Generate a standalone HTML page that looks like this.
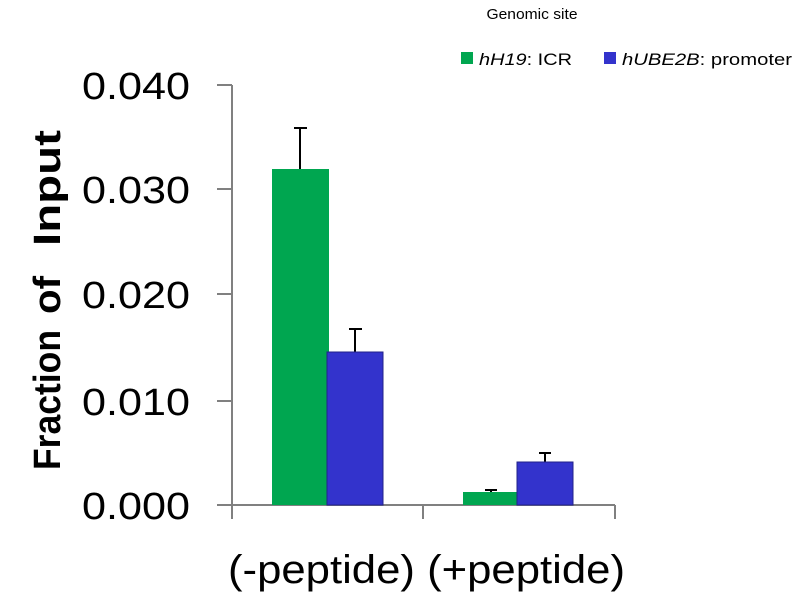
<!DOCTYPE html>
<html><head><style>body{margin:0;background:#fff}</style></head><body>
<svg width="800" height="600" xmlns="http://www.w3.org/2000/svg" font-family="Liberation Sans, sans-serif">
<rect width="800" height="600" fill="#fff"/>
<text x="532" y="19" font-size="15" text-anchor="middle" fill="#000" textLength="91" lengthAdjust="spacingAndGlyphs">Genomic site</text>
<rect x="461" y="52" width="12" height="12" fill="#00a650"/>
<text x="479" y="65" font-size="17" fill="#000" textLength="93" lengthAdjust="spacingAndGlyphs"><tspan font-style="italic">hH19</tspan>: ICR</text>
<rect x="604" y="52" width="12" height="12" fill="#3333cc"/>
<text x="622" y="65" font-size="17" fill="#000" textLength="170" lengthAdjust="spacingAndGlyphs"><tspan font-style="italic">hUBE2B</tspan>: promoter</text>
<g stroke="#808080" stroke-width="2" fill="none">
<line x1="232" y1="85" x2="232" y2="519"/>
<line x1="232" y1="505" x2="615" y2="505"/>
<line x1="217" y1="85" x2="232" y2="85"/>
<line x1="217" y1="189" x2="232" y2="189"/>
<line x1="217" y1="294" x2="232" y2="294"/>
<line x1="217" y1="401" x2="232" y2="401"/>
<line x1="217" y1="505" x2="232" y2="505"/>
<line x1="423" y1="505" x2="423" y2="519"/>
<line x1="615" y1="505" x2="615" y2="519"/>
</g>
<g font-size="38" fill="#000">
<text x="82" y="99" textLength="108" lengthAdjust="spacingAndGlyphs">0.040</text>
<text x="82" y="203" textLength="108" lengthAdjust="spacingAndGlyphs">0.030</text>
<text x="82" y="308" textLength="108" lengthAdjust="spacingAndGlyphs">0.020</text>
<text x="82" y="415" textLength="108" lengthAdjust="spacingAndGlyphs">0.010</text>
<text x="82" y="519" textLength="108" lengthAdjust="spacingAndGlyphs">0.000</text>
</g>
<g stroke="#000" stroke-width="2">
<line x1="300" y1="128" x2="300" y2="169"/><line x1="294" y1="128" x2="307" y2="128"/>
<line x1="355" y1="329" x2="355" y2="352"/><line x1="349" y1="329" x2="362" y2="329"/>
<line x1="491" y1="490" x2="491" y2="492"/><line x1="485" y1="490" x2="497" y2="490"/>
<line x1="545" y1="453" x2="545" y2="462"/><line x1="539" y1="453" x2="551" y2="453"/>
</g>
<rect x="272" y="169" width="57" height="336" fill="#00a650"/>
<rect x="327" y="352" width="56" height="153" fill="#3333cc" stroke="#22228a" stroke-width="1"/>
<rect x="463" y="492" width="54" height="13" fill="#00a650"/>
<rect x="517" y="462" width="56" height="43" fill="#3333cc" stroke="#22228a" stroke-width="1"/>
<text x="228" y="583" font-size="40" fill="#000" textLength="397" lengthAdjust="spacingAndGlyphs">(-peptide) (+peptide)</text>
<g transform="translate(60,470) rotate(-90)" font-size="38" font-weight="bold" fill="#000">
<text x="0" y="0" textLength="140" lengthAdjust="spacingAndGlyphs">Fraction</text>
<text x="156" y="0" textLength="38" lengthAdjust="spacingAndGlyphs">of</text>
<text x="224" y="0" textLength="116" lengthAdjust="spacingAndGlyphs">Input</text>
</g>
</svg>
</body></html>
